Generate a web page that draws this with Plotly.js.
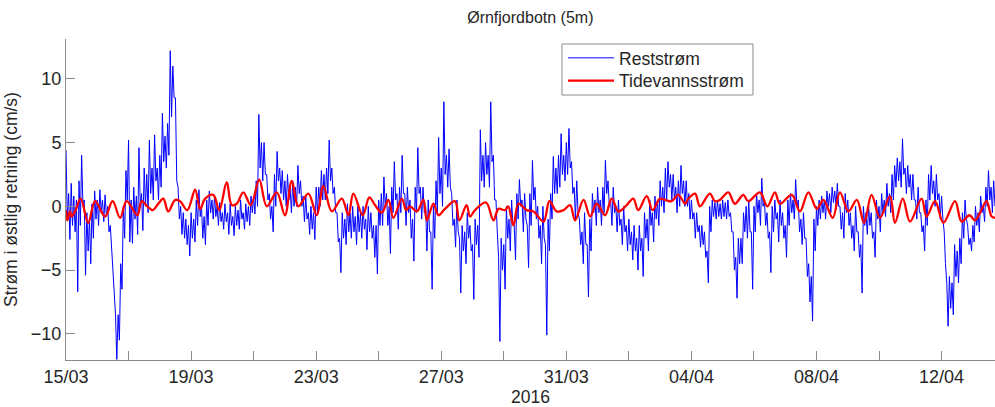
<!DOCTYPE html>
<html>
<head>
<meta charset="utf-8">
<script src="https://cdn.plot.ly/plotly-3.0.1.min.js"></script>
<style>
  html, body { margin: 0; padding: 0; background: #ffffff; }
  #chart { width: 995px; height: 407px; }
</style>
</head>
<body>
<div id="chart"></div>
<script>
// Residual current (east component), cm/s, from 15/03/2016 00:00.
// For every 2-hour window: the highest and the lowest value reached in it.
const windowHours = 2;
const residualHigh = [
  4.4, 1.0, 1.8, 0.8, 0.5, 2.0, 4.0, 0.5, -0.5, -1.0, 0.2, 1.2,
  0.5, 1.3, 0.5, 0.9, 0.0, -1.5, -4.5, -8.5, -8.5, -4.5, 0.0, 2.8,
  5.2, 0.5, 1.5, 0.8, 4.6, 1.0, 3.0, 2.5, 5.2, 3.0, 5.6, 3.0,
  4.0, 7.3, 5.5, 6.5, 12.2, 11.0, 8.5, 1.5, 0.0, -0.5, -1.0, -1.5,
  -0.5, -1.0, 0.5, 1.3, 0.0, -0.8, 0.5, 1.2, 0.5, 0.8, 0.0, 0.3,
  -0.5, 0.2, -0.5, 0.2, -0.8, 0.0, -0.3, 0.5, -0.5, 0.2, 0.0, 0.8,
  0.8, 2.0, 7.2, 5.0, 5.0, 2.5, 1.0, 0.0, 2.5, 4.3, 3.0, 2.8,
  2.0, 2.5, 1.5, 2.0, 1.5, 3.2, 2.0, 0.8, 0.8, -0.5, 0.0, -0.5,
  1.5, 1.5, 2.8, 2.5, 3.0, 5.2, 3.0, 1.5, -0.5, -2.5, -0.5, -1.0,
  0.2, -0.5, 0.0, -0.8, 0.0, -0.5, 0.0, -1.0, 0.0, -0.5, -1.5, -1.5,
  0.5, 1.0, 2.3, 1.0, 0.0, 1.5, 3.5, 1.0, 1.5, 4.0, 1.0, 1.5,
  0.5, -1.0, 1.5, 4.6, 1.5, 1.5, 0.0, 0.5, -2.0, 0.0, 2.0, 5.4,
  3.0, 8.2, 4.0, 4.5, 1.0, -1.0, 0.5, -2.5, -1.5, -2.0, -0.5, -1.5,
  -3.0, -1.0, -1.5, 6.0, 4.0, 5.0, 4.0, 8.2, 4.0, 0.5, -4.0, -2.5,
  -3.0, 0.0, -1.0, 0.5, -1.5, 1.0, 2.1, 0.5, 1.0, -1.5, 1.0, 3.6,
  1.5, 0.0, -1.5, 0.0, -3.0, -1.0, 1.0, 3.9, 3.0, 4.0, 5.7, 4.0,
  5.0, 6.1, 3.5, 1.5, 2.0, -1.0, -2.0, -0.5, -3.0, -1.0, 1.0, 0.5,
  1.5, 0.5, 1.5, 3.6, 2.0, 0.5, 1.5, 0.0, 0.5, -1.0, 0.0, -1.5,
  -1.0, -2.0, -1.5, -2.5, -1.5, -2.5, -0.5, -1.0, 0.5, -0.5, 0.8, 0.5,
  2.0, 1.5, 3.0, 3.5, 2.5, 2.5, 1.5, 2.0, 3.2, 2.0, 2.0, 1.0,
  0.5, -0.5, -0.5, -1.5, -1.5, -2.0, -3.5, 0.0, 0.5, 0.3, 0.5, 0.2,
  0.5, 0.3, 0.5, -0.5, -2.0, -4.0, -2.5, -2.5, -0.5, 0.0, 0.5, -2.0,
  0.0, 1.0, 0.5, 2.2, 0.5, -0.5, -2.0, 0.0, 0.5, -0.5, 0.5, -0.5,
  -1.5, 0.5, 1.0, 0.5, 2.1, 0.5, -1.0, -0.5, -2.5, -4.5, -5.5, -1.0,
  0.0, 0.5, 0.8, 0.5, 1.2, 1.0, 1.5, 1.2, 1.8, 0.0, -0.5, 1.0,
  0.5, -0.5, -1.5, 0.0, -2.0, -3.0, 0.0, -0.5, 0.0, -0.5, -2.0, 0.5,
  0.0, 1.0, 0.5, 1.8, 1.0, 2.5, 3.2, 3.8, 3.5, 5.3, 3.0, 3.2,
  2.5, 2.5, 0.5, 1.5, -0.5, -1.5, 0.5, 2.5, 3.2, 2.0, 2.5, 1.0,
  0.8, -2.0, -6.0, -5.5, -6.0, -3.0, -3.5, -2.5, -0.5, 0.5, -1.5, -2.5,
  -1.5, 0.0, -0.5, 0.8, 0.0, 1.5, 2.8, 1.5, 2.0
];
const residualLow = [
  -1.0, -2.6, -1.5, -2.0, -6.7, -1.5, 0.0, -5.4, -3.5, -4.5, -2.5, -1.0,
  -1.5, -0.5, -1.2, -0.8, -2.0, -3.5, -7.5, -12.0, -10.5, -6.5, -2.5, 0.5,
  -2.8, -2.9, -1.0, -2.2, 0.0, -1.9, 0.0, -0.5, 1.0, 0.5, 2.0, 0.5,
  1.5, 3.5, 3.0, 4.0, 7.0, 8.5, 2.0, -1.0, -2.2, -2.5, -3.0, -3.9,
  -2.5, -2.8, -1.5, -0.8, -2.5, -3.0, -1.5, -0.5, -1.0, -0.8, -1.5, -1.2,
  -1.8, -1.2, -2.2, -1.5, -2.3, -1.5, -1.8, -1.0, -1.8, -1.2, -1.5, -0.5,
  -0.6, 0.0, 3.0, 2.0, 2.5, 0.5, -1.0, -2.0, 0.0, 2.0, 1.0, 0.5,
  0.0, 0.5, -0.5, 0.0, 0.0, 1.0, 0.0, -1.2, -1.0, -2.2, -1.8, -2.6,
  -0.5, 0.0, 0.5, 0.5, 1.0, 2.0, 1.0, -0.5, -2.8, -5.2, -2.5, -3.0,
  -2.0, -2.5, -2.0, -3.0, -2.0, -2.5, -1.8, -3.4, -2.0, -2.5, -4.0, -5.3,
  -1.5, -1.5, 0.0, -1.5, -3.7, -0.5, 0.5, -1.8, -0.5, 1.0, -1.5, -0.5,
  -2.5, -4.3, -0.5, 1.0, -1.0, -0.5, -3.5, -2.0, -6.5, -2.5, -0.5, 1.0,
  0.0, 2.5, 1.5, 1.5, -1.5, -3.2, -2.0, -6.8, -3.5, -4.5, -2.5, -3.5,
  -7.3, -3.0, -4.0, 2.0, 1.5, 2.5, 1.5, 3.5, 0.5, -2.0, -10.6, -5.0,
  -6.5, -2.5, -3.5, -1.5, -4.2, -1.0, 0.0, -2.0, -1.0, -4.8, -1.5, 0.5,
  -1.0, -2.5, -4.5, -2.5, -10.1, -3.5, -1.0, 1.0, 1.0, 1.5, 2.5, 2.0,
  2.5, 3.0, 1.0, -1.0, -0.5, -3.0, -4.5, -3.0, -7.1, -3.5, -0.5, -1.5,
  -0.5, -1.5, -0.5, 1.0, 0.0, -1.5, -0.5, -2.0, -1.5, -3.0, -2.0, -3.5,
  -3.0, -4.2, -3.5, -5.0, -3.5, -5.5, -2.5, -3.5, -1.5, -2.8, -1.0, -1.5,
  0.0, -0.5, 0.5, 1.5, 0.5, 0.5, -0.5, 0.0, 1.0, 0.0, 0.0, -1.0,
  -1.0, -2.5, -2.0, -3.2, -3.0, -4.0, -6.0, -2.0, -0.8, -1.0, -0.8, -1.0,
  -0.8, -1.0, -0.8, -2.0, -5.0, -7.2, -4.5, -4.5, -2.0, -2.5, -2.0, -6.5,
  -2.0, -0.5, -1.5, 0.0, -1.5, -2.5, -5.2, -2.0, -1.0, -2.8, -1.5, -2.5,
  -4.0, -1.5, -0.5, -1.0, 0.0, -2.0, -3.0, -2.5, -5.5, -7.5, -9.0, -3.5,
  -1.5, -1.0, -0.5, -1.0, 0.0, -0.5, 0.3, 0.0, 0.0, -1.8, -2.5, -0.5,
  -1.5, -2.5, -3.5, -2.0, -4.0, -6.8, -1.5, -2.2, -1.5, -2.5, -4.0, -1.0,
  -2.0, -0.5, -0.8, 0.0, -0.5, 0.5, 1.5, 2.0, 1.5, 2.5, 1.0, 1.5,
  0.5, 0.5, -1.0, -0.5, -2.0, -3.5, -1.5, 0.5, 1.0, 0.0, 0.5, -1.0,
  -1.0, -4.5, -9.4, -8.0, -8.5, -5.5, -6.0, -4.5, -2.5, -1.0, -3.0, -3.5,
  -2.8, -1.5, -2.0, -0.5, -1.2, 0.0, 0.5, -0.5, 0.0
];

// Tidal current (east component), cm/s: turning points, in days after 15/03/2016 00:00
const tideDays = [
  0.00, 0.04, 0.13, 0.18, 0.29, 0.47, 0.71, 0.93, 1.25, 1.49, 1.73, 1.94,
  2.28, 2.42, 2.60, 2.77, 2.95, 3.11, 3.27, 3.49, 3.65, 3.88, 4.13, 4.29,
  4.45, 4.71, 4.90, 5.14, 5.30, 5.46, 5.67, 5.91, 6.18, 6.42, 6.74, 7.00,
  7.22, 7.43, 7.75, 8.02, 8.23, 8.50, 8.82, 9.03, 9.19, 9.49, 9.70, 9.88,
  10.10, 10.31, 10.47, 10.74, 10.88, 11.00, 11.22, 11.43, 11.54, 11.75, 11.91, 12.12,
  12.44, 12.58, 12.81, 12.92, 13.08, 13.43, 13.67, 13.83, 14.04, 14.14, 14.31, 14.47,
  14.73, 14.95, 15.27, 15.46, 15.69, 15.91, 16.12, 16.28, 16.55, 16.76, 16.97, 17.24,
  17.45, 17.67, 17.93, 18.14, 18.30, 18.57, 18.76, 18.99, 19.16, 19.37, 19.58, 19.80,
  19.90, 20.12, 20.27, 20.59, 20.75, 20.91, 21.18, 21.39, 21.66, 21.82, 22.19, 22.43,
  22.67, 22.83, 23.21, 23.47, 23.74, 24.01, 24.22, 24.52, 24.75, 25.02, 25.29, 25.52,
  25.76, 26.03, 26.35, 26.51, 26.76, 26.99, 27.36, 27.52, 27.79, 28.06, 28.43, 28.64,
  28.89, 29.07, 29.23, 29.44, 29.60, 29.71
];
const tideValues = [
  -0.3, -1.1, -0.4, -0.8, -0.4, 0.6, -1.3, 0.4, -0.8, 0.4, -0.9, 0.4,
  -0.7, 0.4, 0.0, -0.3, 0.2, 0.6, -0.4, 0.5, 0.4, -0.3, 1.3, -0.2,
  0.6, 0.9, -0.3, 1.9, 0.1, 0.2, 1.1, 0.1, 2.1, 0.0, 1.1, -0.7,
  2.0, 0.0, 1.0, -0.7, 1.6, -0.4, 0.6, -0.7, 1.0, -0.7, 0.7, 0.1,
  -0.5, 0.5, -0.9, 0.6, -0.3, 0.0, -0.4, 0.5, -1.1, 0.2, -0.7, -0.2,
  0.4, -1.1, 0.1, -0.8, -0.3, 0.3, -1.1, -0.2, -0.3, 0.0, -1.5, 0.2,
  -0.3, -0.4, -1.2, 0.4, -0.4, -0.3, 0.1, -1.1, 0.5, -0.8, 0.2, -0.7,
  0.6, -0.4, 0.1, 0.6, -0.3, 0.8, -0.3, 0.6, 0.5, 0.4, 0.9, 0.2,
  0.6, 1.0, 0.0, 1.0, 0.4, 0.5, 1.1, 0.2, 0.9, 0.4, 1.1, 0.0,
  1.1, 0.2, 0.9, -0.4, 1.1, -0.2, 0.5, -0.9, 1.1, -0.4, 0.5, -1.3,
  0.9, -0.9, 0.8, -1.3, 0.6, -1.2, 0.6, -0.8, 0.4, -1.3, 0.4, -1.2,
  -0.7, -1.1, -0.5, 0.4, -0.8, -0.9
];

// Axis ticks every second day, labelled every fourth day
const tickDays = [0, 2, 4, 6, 8, 10, 12, 14, 16, 18, 20, 22, 24, 26, 28];
const tickLabels = ['15/03', '', '19/03', '', '23/03', '', '27/03', '', '31/03', '', '04/04', '', '08/04', '', '12/04'];
const yTicks = [-10, -5, 0, 5, 10];

const startMs = Date.UTC(2016, 2, 15);
const HOUR = 3600000;
const DAY = 24 * HOUR;
function dateStr(ms) {
  return new Date(ms).toISOString().slice(0, 19).replace('T', ' ');
}
const fromDays = d => dateStr(startMs + d * DAY);

// Residual trace: high at the start of each window, low half a window later
const residualX = [];
const residualY = [];
residualHigh.forEach((hi, k) => {
  const t0 = startMs + k * windowHours * HOUR;
  residualX.push(dateStr(t0), dateStr(t0 + windowHours * HOUR / 2));
  residualY.push(hi, residualLow[k]);
});
const endDay = ((residualHigh.length - 1) * windowHours + windowHours / 2) / 24;

const tideX = tideDays.map(fromDays);

const axisGrey = '#8a8a8a';
const textColor = '#262626';

const traces = [
  {
    type: 'scatter', mode: 'lines', name: 'Reststrøm', legend: 'legend',
    x: residualX, y: residualY,
    line: { color: '#0000ff', width: 1 }
  },
  {
    type: 'scatter', mode: 'lines', name: 'Tidevannsstrøm', legend: 'legend2',
    x: tideX, y: tideValues,
    line: { color: '#ff0000', width: 2.3, shape: 'spline', smoothing: 1 }
  }
];

const legendCommon = {
  x: 0.535, xanchor: 'left', yanchor: 'top',
  bgcolor: 'rgba(0,0,0,0)', borderwidth: 0,
  font: { size: 17.5, color: textColor }, itemwidth: 46
};

const layout = {
  width: 995, height: 407,
  margin: { l: 66, r: 0, t: 39, b: 47, pad: 0 },
  paper_bgcolor: '#ffffff', plot_bgcolor: '#ffffff',
  font: { family: 'Liberation Sans, Arial, Helvetica, sans-serif', color: textColor },
  title: {
    text: 'Ørnfjordbotn (5m)', font: { size: 16, color: textColor },
    x: 0.533, xanchor: 'center', xref: 'container',
    y: 0.958, yanchor: 'middle', yref: 'container'
  },
  showlegend: true,
  legend: Object.assign({ y: 0.997 }, legendCommon),
  legend2: Object.assign({ y: 0.926 }, legendCommon),
  // frame shared by the two legend entries
  shapes: [{
    type: 'rect', xref: 'paper', yref: 'paper', layer: 'below',
    x0: 0.5339, x1: 0.7395, y0: 0.8255, y1: 0.9844,
    line: { color: axisGrey, width: 1 }, fillcolor: '#ffffff'
  }],
  xaxis: {
    type: 'date', range: [fromDays(0), fromDays(endDay)],
    showline: true, linecolor: axisGrey, linewidth: 1, mirror: false,
    showgrid: false, zeroline: false,
    ticks: 'inside', ticklen: 9, tickcolor: axisGrey, tickwidth: 1,
    tickmode: 'array', tickvals: tickDays.map(fromDays), ticktext: tickLabels,
    tickfont: { size: 18, color: textColor },
    title: { text: '2016', font: { size: 17.5, color: textColor }, standoff: 4 }
  },
  yaxis: {
    range: [-12.05, 13.12],
    showline: true, linecolor: axisGrey, linewidth: 1, mirror: false,
    showgrid: false, zeroline: false,
    ticks: 'inside', ticklen: 9, tickcolor: axisGrey, tickwidth: 1,
    tickmode: 'array', tickvals: yTicks,
    tickfont: { size: 18, color: textColor },
    title: { text: 'Strøm i østlig retning (cm/s)', font: { size: 17.5, color: textColor }, standoff: 8 }
  }
};

Plotly.newPlot('chart', traces, layout, { displayModeBar: false, staticPlot: true });
</script>
</body>
</html>
